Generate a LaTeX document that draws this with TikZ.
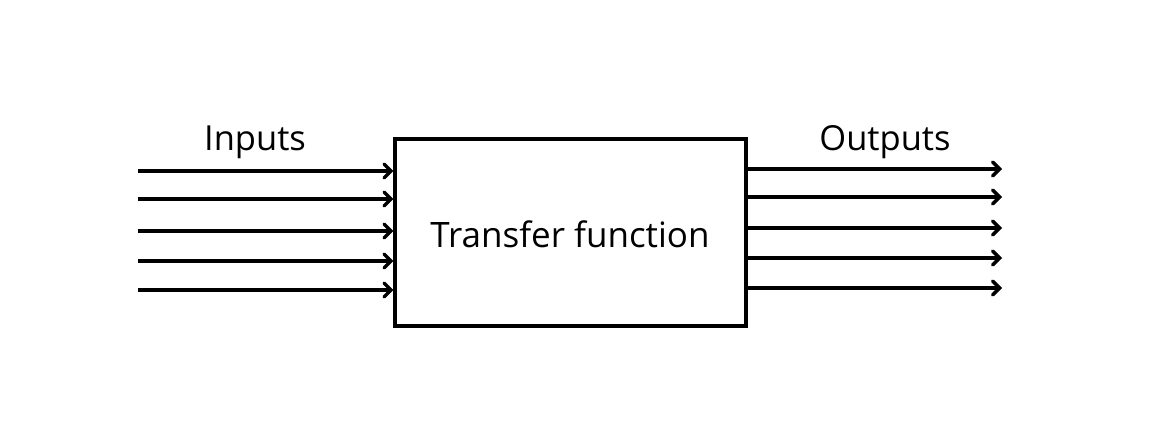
\documentclass[tikz,border=0pt]{standalone}
\usepackage{fontspec}
\setmainfont{Open Sans}
\usetikzlibrary{arrows.meta}
\begin{document}
\begin{tikzpicture}[x=1pt,y=-1pt,
  sig/.style={line width=3.2pt,-{Straight Barb[length=7pt,width=14pt,line width=3.4pt,line cap=round]}},
  tfbox/.style={draw,line width=3.2pt,minimum width=351pt,minimum height=187pt,inner sep=0pt},
  lbl/.style={font=\fontsize{34.5}{40}\selectfont}]
\useasboundingbox (0,0) rectangle (1153,438);
\node[tfbox] (box) at (570.5,232.5) {};
\node[font=\fontsize{35}{40}\selectfont] (tf) at (570,234) {Transfer function};
\node[lbl] (inl) at (255,142) {Inputs};
\node[lbl] (outl) at (885,142) {Outputs};
\foreach \y [count=\i] in {171,199,231,261,290} {
  \coordinate (in\i) at (138,\y);
  \draw[sig] (in\i) -- (in\i -| box.west);
}
\foreach \y [count=\i] in {169,197,228,258,288} {
  \coordinate (out\i) at (1002,\y);
  \draw[sig] (out\i -| box.east) -- (out\i);
}
\end{tikzpicture}
\end{document}
